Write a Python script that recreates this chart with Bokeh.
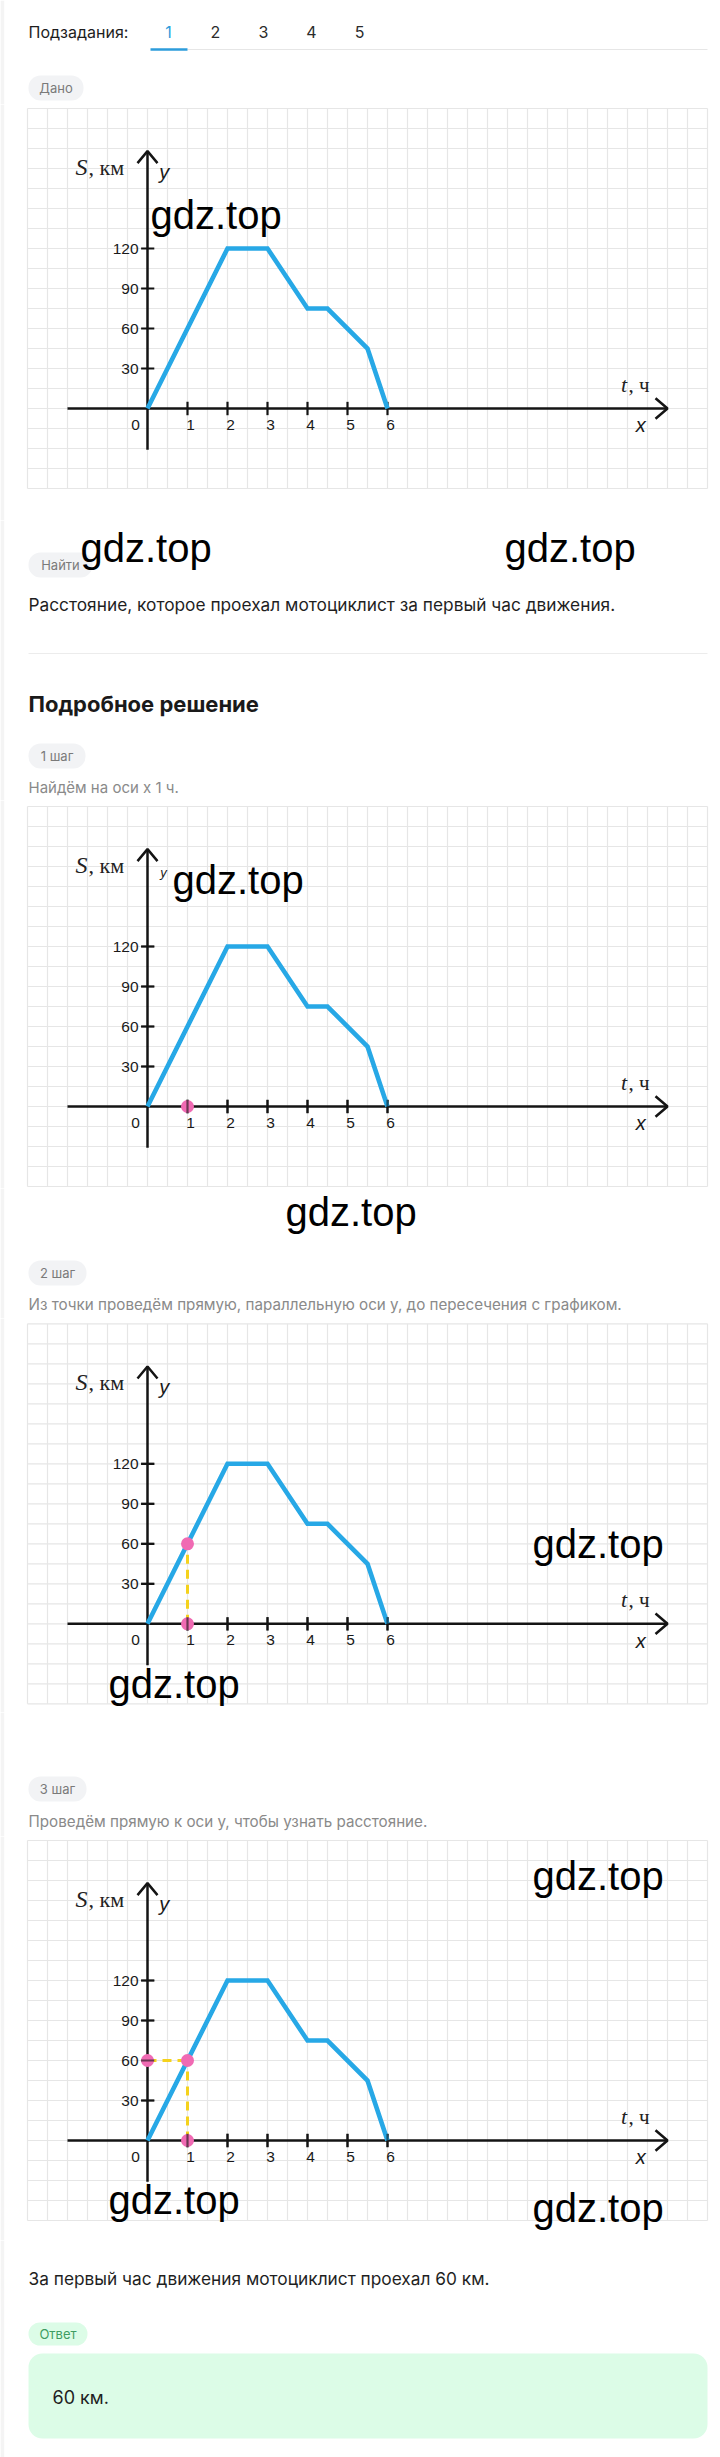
from bokeh.plotting import figure
from bokeh.models import Range1d
from bokeh.layouts import column
from bokeh.embed import file_html
from bokeh.resources import INLINE
from bokeh.core.properties import value

# ---------------- data ----------------
t_hours = [0, 2, 3, 4, 4.5, 5.5, 6]
dist_km = [0, 120, 120, 75, 75, 45, 0]
x_ticks = [1, 2, 3, 4, 5, 6]
x_tick_labels = ["1", "2", "3", "4", "5", "6"]
y_ticks = [30, 60, 90, 120]
y_tick_labels = ["30", "60", "90", "120"]
tab_labels = ["1", "2", "3", "4", "5"]
mark_t = 1
mark_s = 60

# ---------------- layout constants ----------------
W = 720
LEFT = 4
X0PX = 147          # page x of t = 0
PX_PER_H = 40.0     # px per hour
PX_PER_KM = 40.0 / 30.0
GRID_X = [-3 + 0.5 * i for i in range(35)]
GRID_Y = [-60 + 15 * i for i in range(20)]
GX0, GX1, GY0, GY1 = -3, 14, -60, 225

SANS = "Inter"
WM_FONT = "Liberation Sans"
SERIF = "Liberation Serif"
AX = "#141414"
BLUE = "#27a8e6"
PINK = "#f06ab3"
YELLOW = "#f5d21c"
BODY = "17.3"


def base_fig(h, xr, yr):
    p = figure(width=W, height=h, x_range=xr, y_range=yr,
               x_axis_type=None, y_axis_type=None, toolbar_location=None,
               output_backend="svg", min_border=0, min_border_left=LEFT,
               min_border_right=0, min_border_top=0, min_border_bottom=0,
               border_fill_color="#f4f4f4", background_fill_color="white",
               outline_line_color=None)
    return p


def txt(p, x, y, s, size, color, font=SANS, style="normal", align="left"):
    p.text(x=[x], y=[y], text=[s], text_font=value(font),
           text_font_size=f"{size}px", text_color=color,
           text_font_style=style, text_align=align, text_baseline="middle")


def page_fig(h):
    return base_fig(h, Range1d(LEFT, W), Range1d(h, 0))


def badge(p, x0, x1, y0, y1, label, fill="#f2f3f5", color="#7a7a7a"):
    p.quad(left=[x0], right=[x1], top=[y0], bottom=[y1], fill_color=fill,
           line_color=None, border_radius=12)
    txt(p, (x0 + x1) / 2, (y0 + y1) / 2, label, 13, color, align="center")


def watermark(p, x, y, to_data=None):
    if to_data is not None:
        x, y = to_data(x, y)
    p.text(x=[x], y=[y], text=["gdz.top"], text_font=value(WM_FONT),
           text_font_size="40px", text_color="#000000", text_align="left",
           text_baseline="middle")


def chart_fig(Y0, Y1, A, step, marks=()):
    h = Y1 - Y0
    xr = Range1d((LEFT - X0PX) / PX_PER_H, (W - X0PX) / PX_PER_H)
    yr = Range1d((A - Y1) / PX_PER_KM, (A - Y0) / PX_PER_KM)
    p = base_fig(h, xr, yr)

    def to_data(px, py):
        return (px - X0PX) / PX_PER_H, (A - py) / PX_PER_KM

    # graph paper
    p.segment(x0=GRID_X, x1=GRID_X, y0=[GY0] * len(GRID_X), y1=[GY1] * len(GRID_X),
              line_color="#e6e6e6", line_width=1.2)
    p.segment(x0=[GX0] * len(GRID_Y), x1=[GX1] * len(GRID_Y), y0=GRID_Y, y1=GRID_Y,
              line_color="#e6e6e6", line_width=1.2)

    # axes with arrow heads
    p.line(x=[-2, 13], y=[0, 0], line_color=AX, line_width=2.5)
    p.line(x=[0, 0], y=[-31, 193], line_color=AX, line_width=2.5)
    p.line(x=[13 - 0.3, 13, 13 - 0.3], y=[7.7, 0, -7.7], line_color=AX, line_width=2.5)
    p.line(x=[-0.25, 0, 0.25], y=[193 - 9, 193, 193 - 9], line_color=AX, line_width=2.5)

    # ticks
    p.segment(x0=x_ticks, x1=x_ticks, y0=[-5] * len(x_ticks), y1=[5] * len(x_ticks),
              line_color=AX, line_width=2.2)
    p.segment(x0=[-0.16] * len(y_ticks), x1=[0.17] * len(y_ticks), y0=y_ticks, y1=y_ticks,
              line_color=AX, line_width=2.2)

    # tick labels
    p.text(x=[t + 0.075 for t in x_ticks], y=[-12.5] * len(x_ticks), text=x_tick_labels,
           text_font=value(WM_FONT), text_font_size="15.5px", text_color="#1a1a1a",
           text_align="center", text_baseline="middle")
    p.text(x=[-0.225] * len(y_ticks), y=y_ticks, text=y_tick_labels,
           text_font=value(WM_FONT), text_font_size="15.5px", text_color="#1a1a1a",
           text_align="right", text_baseline="middle")
    txt(p, -0.3, -12.5, "0", 15.5, "#1a1a1a", font=WM_FONT, align="center")

    # axis titles
    txt(p, -1.8, 181, "S", 24, "#222222", font=SERIF, style="italic")
    txt(p, -1.475, 181, ", км", 22, "#222222", font=SERIF)
    if step == 1:
        txt(p, 0.4, 175.3, "y", 13, "#1a1a1a", font=WM_FONT, style="italic", align="center")
    else:
        txt(p, 0.42, 177.4, "y", 20, "#1a1a1a", font=WM_FONT, style="italic", align="center")
    txt(p, 11.84, 18, "t", 22, "#222222", font=SERIF, style="italic")
    txt(p, 12.025, 18, ", ч", 21, "#222222", font=SERIF)
    txt(p, 12.33, -12.6, "x", 20, "#1a1a1a", font=WM_FONT, style="italic", align="center")

    # the graph
    p.line(x=t_hours, y=dist_km, line_color=BLUE, line_width=4.6, line_join="miter")

    # construction marks
    if "v" in marks:
        p.line(x=[mark_t, mark_t], y=[0, mark_s], line_color=YELLOW, line_width=3,
               line_dash="9 6")
    if "h" in marks:
        p.line(x=[0, mark_t], y=[mark_s, mark_s], line_color=YELLOW, line_width=3,
               line_dash="9 6")
    dx, dy = [], []
    if "p0" in marks:
        dx.append(mark_t); dy.append(0)
    if "p1" in marks:
        dx.append(mark_t); dy.append(mark_s)
    if "p2" in marks:
        dx.append(0); dy.append(mark_s)
    if dx:
        p.scatter(x=dx, y=dy, size=13, fill_color=PINK, line_color=None)
        # axis ticks show through the dots
        p.segment(x0=x_ticks, x1=x_ticks, y0=[-5] * len(x_ticks), y1=[5] * len(x_ticks),
                  line_color=AX, line_width=2.2, line_alpha=0.6)
        p.segment(x0=[-0.16] * len(y_ticks), x1=[0.17] * len(y_ticks), y0=y_ticks,
                  y1=y_ticks, line_color=AX, line_width=2.2, line_alpha=0.6)
    return p, to_data


figs = []

# ---------------- header (0..104) ----------------
hdr = page_fig(104)
txt(hdr, 28, 31, "Подзадания:", 16, "#1d1d1d")
tab_x = [168, 215, 263, 311, 359]
hdr.text(x=tab_x, y=[31] * 5, text=tab_labels, text_font=value(SANS),
         text_font_size="16px",
         text_color=["#2d9cdb", "#2b2b2b", "#2b2b2b", "#2b2b2b", "#2b2b2b"],
         text_align="center", text_baseline="middle")
hdr.line(x=[187, 707], y=[49, 49], line_color="#e6e6e6", line_width=1)
hdr.line(x=[150, 187], y=[49, 49], line_color="#2d9cdb", line_width=2.5)
badge(hdr, 28, 83, 75, 100, "Дано")
figs.append(hdr)

# ---------------- chart 1 (104..520) ----------------
c1, td = chart_fig(104, 520, 408, 0)
watermark(c1, 150, 214.6, td)
figs.append(c1)

# ---------------- text 1 (520..800) ----------------
t1 = page_fig(280)
badge(t1, 28, 92, 32, 57, "Найти")
watermark(t1, 80, 27.6)
watermark(t1, 504, 27.6)
txt(t1, 28, 84, "Расстояние, которое проехал мотоциклист за первый час движения.", BODY, "#1f1f1f")
t1.line(x=[28, 707], y=[133, 133], line_color="#ececec", line_width=1)
txt(t1, 28, 183, "Подробное решение", 22, "#1a1a1a", style="bold")
badge(t1, 28, 85, 223, 248, "1 шаг")
txt(t1, 28, 267, "Найдём на оси x 1 ч.", 15, "#8a8a8a")
figs.append(t1)

# ---------------- chart 2 (800..1188) ----------------
c2, td = chart_fig(800, 1188, 1106, 1, marks=("p0",))
watermark(c2, 172, 879.6, td)
figs.append(c2)

# ---------------- text 2 (1188..1318) ----------------
t2 = page_fig(130)
watermark(t2, 285, 23)
badge(t2, 28, 86, 72, 97, "2 шаг")
txt(t2, 28, 116, "Из точки проведём прямую, параллельную оси y, до пересечения с графиком.", 15.2, "#8a8a8a")
figs.append(t2)

# ---------------- chart 3 (1318..1712) ----------------
c3, td = chart_fig(1318, 1712, 1623.3, 2, marks=("v", "p0", "p1"))
watermark(c3, 532, 1543, td)
watermark(c3, 108, 1683, td)
figs.append(c3)

# ---------------- text 3 (1712..1836) ----------------
t3 = page_fig(124)
badge(t3, 28, 86, 64, 89, "3 шаг")
txt(t3, 28, 109, "Проведём прямую к оси y, чтобы узнать расстояние.", 15.2, "#8a8a8a")
figs.append(t3)

# ---------------- chart 4 (1836..2240) ----------------
c4, td = chart_fig(1836, 2240, 2140, 3, marks=("v", "h", "p0", "p1", "p2"))
watermark(c4, 532, 1875, td)
watermark(c4, 108, 2199, td)
watermark(c4, 532, 2207, td)
figs.append(c4)

# ---------------- text 4 (2240..2457) ----------------
t4 = page_fig(217)
txt(t4, 28, 38, "За первый час движения мотоциклист проехал 60 км.", BODY, "#1f1f1f")
badge(t4, 28, 87, 82, 105, "Ответ", fill="#dcfce7", color="#3f9c62")
t4.quad(left=[28], right=[707], top=[113], bottom=[198], fill_color="#dcfce7",
        line_color=None, border_radius=14)
txt(t4, 52, 157, "60 км.", 18, "#1f1f1f")
figs.append(t4)

layout = column(*figs, spacing=0)
open("out.html", "w").write(file_html(layout, INLINE))
